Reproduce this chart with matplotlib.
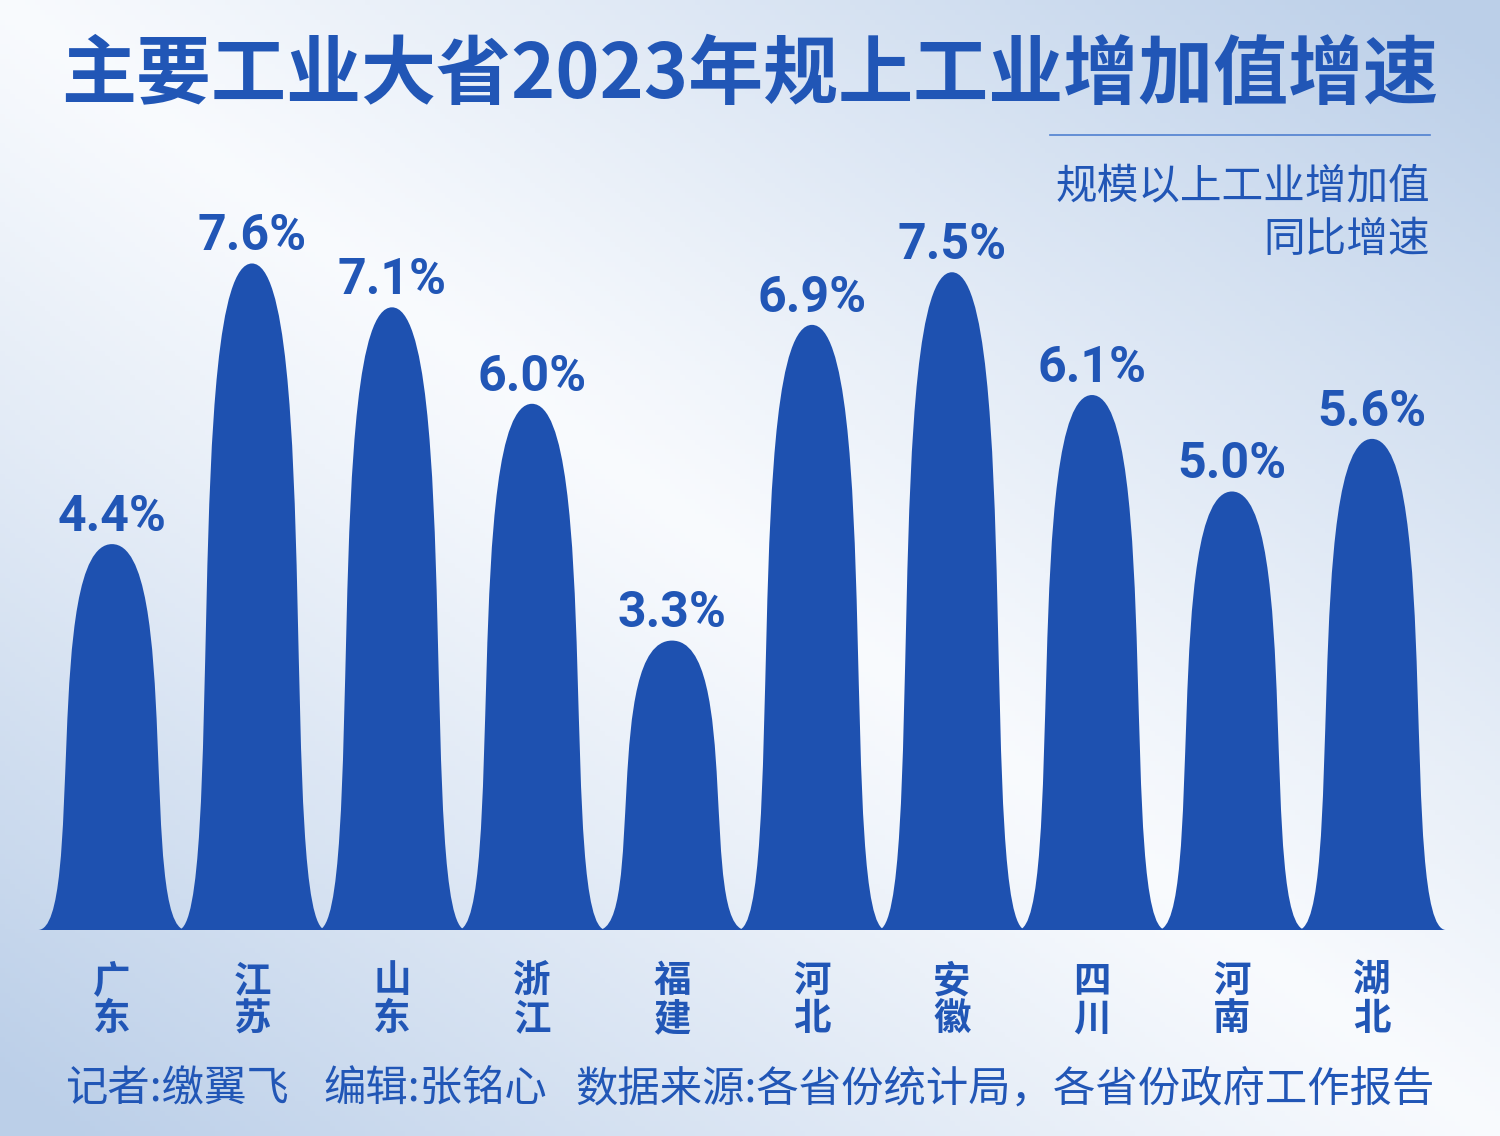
import numpy as np
import matplotlib
matplotlib.use("Agg")
import matplotlib.pyplot as plt
from matplotlib.path import Path
from matplotlib.patches import PathPatch
import matplotlib.transforms as mtransforms

plt.rcParams['font.family'] = ['Noto Sans CJK SC', 'DejaVu Sans']

# data
provinces = ["广东", "江苏", "山东", "浙江", "福建", "河北", "安徽", "四川", "河南", "湖北"]
growth = [4.4, 7.6, 7.1, 6.0, 3.3, 6.9, 7.5, 6.1, 5.0, 5.6]
title = "主要工业大省2023年规上工业增加值增速"
subtitle = "规模以上工业增加值\n同比增速"
reporter = "记者:缴翼飞"
editor = "编辑:张铭心"
source = "数据来源:各省份统计局，各省份政府工作报告"

W, H = 1500, 1136
text_color = "#2156b6"
bell_color = "#1e51b0"

fig = plt.figure(figsize=(W / 100, H / 100), dpi=100)

# background gradient
bg = fig.add_axes([0, 0, 1, 1])
bg.set_axis_off()
gx, gy = np.meshgrid(np.linspace(0, 1, 300), np.linspace(0, 1, 230))
k = np.clip(np.abs(gx - gy) * 1.05, 0, 1) ** 1.1
light = np.array([0.975, 0.983, 0.995])
blue = np.array([0.735, 0.812, 0.912])
img = light[None, None, :] * (1 - k[..., None]) + blue[None, None, :] * k[..., None]
bg.imshow(img, extent=[0, 1, 0, 1], aspect='auto', origin='upper')
bg.set_xlim(0, 1)
bg.set_ylim(0, 1)

# chart axes
px_per_unit = 140
base_px = 930
ymax = 8.0
unit_h = 87.7
ax = fig.add_axes([35 / W, (H - base_px) / H, 1414 / W, ymax * unit_h / H])
ax.set_xlim(-0.55, 9.55)
ax.set_ylim(0, ymax)
ax.set_axis_off()
ax.patch.set_alpha(0)

# bell shape, cubic bezier halves
w = 74 / px_per_unit
a = 27 / px_per_unit
b = 69.4 / px_per_unit
for i, v in enumerate(growth):
    verts = [(i - w, 0), (i - a, 0), (i - b, v), (i, v),
             (i + b, v), (i + a, 0), (i + w, 0), (i - w, 0)]
    codes = [Path.MOVETO, Path.CURVE4, Path.CURVE4, Path.CURVE4,
             Path.CURVE4, Path.CURVE4, Path.CURVE4, Path.CLOSEPOLY]
    ax.add_patch(PathPatch(Path(verts, codes), facecolor=bell_color,
                           edgecolor='none', zorder=2))
    ax.annotate(f"{v:.1f}%", (i, v), xytext=(0, 9.5), textcoords='offset points',
                ha='center', va='baseline', fontsize=36, fontweight='bold',
                color=text_color, family=['Roboto', 'DejaVu Sans'])

# province labels
trans = mtransforms.blended_transform_factory(ax.transData, fig.transFigure)
for i, name in enumerate(provinces):
    ax.text(i, 1 - 961 / H, "\n".join(name), transform=trans, ha='center', va='top',
            fontsize=27, fontweight='bold', color=text_color, linespacing=0.98,
            clip_on=False)

# title and notes
fig.text(0.5, 1 - 76 / H, title, ha='center', va='center', fontsize=54,
         fontweight='bold', color=text_color)
fig.add_artist(plt.Line2D([1050 / W, 1430 / W], [1 - 135 / H, 1 - 135 / H],
                          color="#4f80d0", lw=1.2))
fig.text(1430 / W, 1 - 166 / H, subtitle, ha='right', va='top', fontsize=30,
         fontweight='medium', color=text_color, linespacing=1.4)

fy = 1 - 1090 / H
fig.text(65 / W, fy, reporter, ha='left', va='center', fontsize=30.5,
         fontweight='medium', color=text_color)
fig.text(323 / W, fy, editor, ha='left', va='center', fontsize=30.5,
         fontweight='medium', color=text_color)
fig.text(1435 / W, fy, source, ha='right', va='center', fontsize=30.5,
         fontweight='medium', color=text_color)

fig.savefig("out.png", dpi=100)
